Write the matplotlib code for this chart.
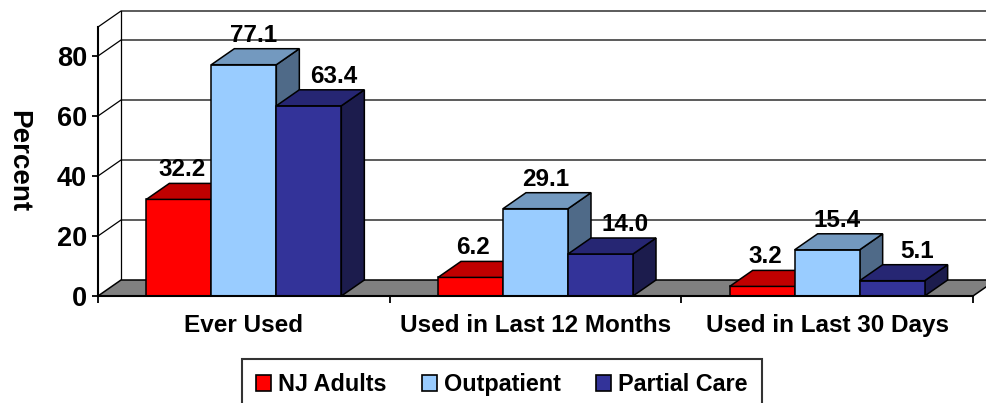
import matplotlib
matplotlib.use('Agg')
import matplotlib.pyplot as plt
from matplotlib.patches import Polygon, Rectangle, Patch

plt.rcParams['font.family'] = ['Liberation Sans', 'DejaVu Sans']
plt.rcParams['font.weight'] = 'bold'

# data
categories = ['Ever Used', 'Used in Last 12 Months', 'Used in Last 30 Days']
series_names = ['NJ Adults', 'Outpatient', 'Partial Care']
nj_adults = [32.2, 6.2, 3.2]
outpatient = [77.1, 29.1, 15.4]
partial_care = [63.4, 14.0, 5.1]
y_ticks = [0, 20, 40, 60, 80]

# front / top / side colour of each series
face_colors = ['#FF0000', '#99CCFF', '#333399']
top_colors = ['#C00000', '#7399BF', '#262673']
side_colors = ['#800000', '#4F6A88', '#1C1C4D']
# small horizontal nudge of the value labels (pixels)
label_shift = [3, 10, 25]

W, H = 987, 403
fig = plt.figure(figsize=(W / 100, H / 100), dpi=100)

# front plane of the fake 3D box
px_left, px_right, px_base, px_top = 98, 973, 296, 27
ax = fig.add_axes([px_left / W, (H - px_base) / H,
                   (px_right - px_left) / W, (px_base - px_top) / H])
px_per_cat = (px_right - px_left) / 3
px_per_val = 3.0
ymax = (px_base - px_top) / px_per_val
ax.set_xlim(-0.5, 2.5)
ax.set_ylim(0, ymax)

# depth of the box in data units
dx = 23 / px_per_cat
dy = 16 / px_per_val
bar_w = 65 / px_per_cat
x_far = 2.5 + 30 / px_per_cat

# back wall: gridlines, top edge and left edge
for v in y_ticks[1:]:
    ax.plot([-0.5, -0.5 + dx, x_far], [v, v + dy, v + dy], color='black',
            lw=0.9, clip_on=False, zorder=1)
ax.plot([-0.5, -0.5 + dx, x_far], [ymax, ymax + dy, ymax + dy],
        color='black', lw=0.9, clip_on=False, zorder=1)
ax.plot([-0.5 + dx, -0.5 + dx], [dy, ymax + dy], color='black', lw=0.9,
        clip_on=False, zorder=1)

# floor
floor = Polygon([(-0.5, 0), (2.5, 0), (2.5 + dx, dy), (-0.5 + dx, dy)],
                closed=True, facecolor='#808080', edgecolor='black', lw=1.1,
                clip_on=False, zorder=2)
ax.add_patch(floor)

# bars, drawn left to right so each one hides the side of the previous
series = [nj_adults, outpatient, partial_care]
z = 3
for j in range(len(categories)):
    for i, vals in enumerate(series):
        v = vals[j]
        x0 = j + (i - 1.5) * bar_w
        front = Rectangle((x0, 0), bar_w, v, facecolor=face_colors[i],
                          edgecolor='black', lw=1.1, clip_on=False, zorder=z)
        top = Polygon([(x0, v), (x0 + bar_w, v), (x0 + bar_w + dx, v + dy),
                       (x0 + dx, v + dy)], closed=True,
                      facecolor=top_colors[i], edgecolor='black', lw=1.1,
                      clip_on=False, zorder=z)
        side = Polygon([(x0 + bar_w, 0), (x0 + bar_w + dx, dy),
                        (x0 + bar_w + dx, v + dy), (x0 + bar_w, v)],
                       closed=True, facecolor=side_colors[i],
                       edgecolor='black', lw=1.1, clip_on=False, zorder=z)
        ax.add_patch(side)
        ax.add_patch(front)
        ax.add_patch(top)
        z += 1
        ax.text(x0 + bar_w / 2 + label_shift[i] / px_per_cat,
                v + dy + 7 / px_per_val, f'{v:.1f}', ha='center',
                va='baseline', fontsize=17.5, fontweight='bold', zorder=50)

# axes
for s in ['top', 'right']:
    ax.spines[s].set_visible(False)
ax.spines['left'].set_linewidth(1.5)
ax.spines['bottom'].set_linewidth(1.5)
ax.spines['left'].set_zorder(40)
ax.spines['bottom'].set_zorder(40)
ax.set_yticks(y_ticks)
ax.tick_params(axis='y', labelsize=19.5, length=4, width=1.3, pad=4)
ax.set_xticks([0, 1, 2], categories)
ax.set_xticks([-0.5, 0.5, 1.5, 2.5], minor=True)
ax.tick_params(axis='x', which='major', length=0, labelsize=17.5, pad=13)
ax.tick_params(axis='x', which='minor', length=5, width=1.3)
ax.patch.set_visible(False)

fig.text(18 / W, 1 - 161 / H, 'Percent', rotation=-90, ha='center',
         va='center', fontsize=20, fontweight='bold')

handles = [Patch(facecolor=c, edgecolor='black', lw=1.2) for c in face_colors]
leg = fig.legend(handles, series_names, loc='upper center',
                 bbox_to_anchor=(502 / W, 1 - 359 / H), ncol=3,
                 frameon=True, fancybox=False, edgecolor='black',
                 fontsize=16.8, handlelength=0.65, handleheight=0.65,
                 handletextpad=0.3, columnspacing=1.5, borderpad=0.6,
                 borderaxespad=0)
leg.get_frame().set_linewidth(1.5)

fig.savefig('out.png', dpi=100)
